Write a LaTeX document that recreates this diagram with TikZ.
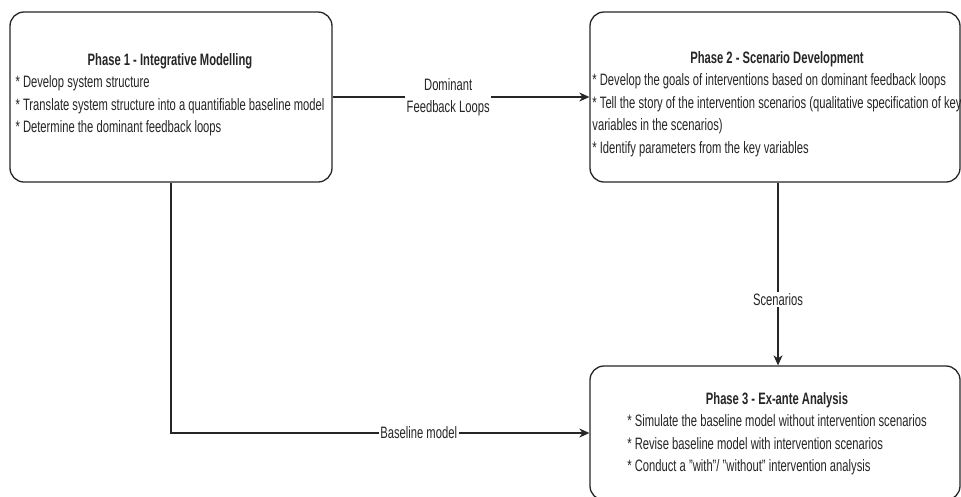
\documentclass[tikz,border=0pt]{standalone}
\usepackage{fontspec}
\setmainfont{Liberation Sans}[FakeStretch=0.68]
\usetikzlibrary{arrows.meta}
\definecolor{ink}{HTML}{262626}
\begin{document}
\begin{tikzpicture}[x=1pt,y=-1pt,
  box/.style={draw=ink, line width=1.3pt, rounded corners=14pt, fill=white, inner sep=0pt},
  txt/.style={anchor=north, inner sep=0pt, text=ink, font=\fontsize{16.5}{22.5}\selectfont},
  lbl/.style={fill=white, inner sep=1.5pt, text=ink, font=\fontsize{16.5}{22.5}\selectfont},
  conn/.style={draw=ink, line width=1.3pt, -{Stealth[length=10pt,width=9pt,inset=3pt]}}]
\useasboundingbox (0,0) rectangle (961,496);
\clip (0,0) rectangle (961,496);
\fill[white] (0,0) rectangle (961,496);

\node[box, minimum width=322pt, minimum height=170pt] (b1) at (171,97) {};
\node[box, minimum width=370pt, minimum height=170pt] (b2) at (775,97) {};
\node[box, minimum width=370pt, minimum height=134pt] (b3) at (775,433) {};

\node[txt] (t1) at (170,49.5) {\begin{tabular}{@{}l@{}}
\multicolumn{1}{@{}c@{}}{\bfseries Phase 1 - Integrative Modelling}\\
{*} Develop system structure\\
{*} Translate system structure into a quantifiable baseline model\\
{*} Determine the dominant feedback loops
\end{tabular}};

\node[txt] (t2) at (777,47.5) {\begin{tabular}{@{}l@{}}
\multicolumn{1}{@{}c@{}}{\bfseries Phase 2 - Scenario Development}\\
{*} Develop the goals of interventions based on dominant feedback loops\\
{*} Tell the story of the intervention scenarios (qualitative specification of key\\
variables in the scenarios)\\
{*} Identify parameters from the key variables
\end{tabular}};

\node[txt] (t3) at (777,388.5) {\begin{tabular}{@{}l@{}}
\multicolumn{1}{@{}c@{}}{\bfseries Phase 3 - Ex-ante Analysis}\\
{*} Simulate the baseline model without intervention scenarios\\
{*} Revise baseline model with intervention scenarios\\
{*} Conduct a "with"/ "without" intervention analysis
\end{tabular}};

\draw[conn] (b1.east) -- node[lbl, pos=0.45, align=center] (l1) {Dominant\\Feedback Loops} (b2.west);
\draw[conn] ([xshift=3pt]b2.south) -- node[lbl, pos=0.64] (l2) {Scenarios} ([xshift=3pt]b3.north);
\draw[conn] (b1.south) |- node[lbl, pos=0.796] (l3) {Baseline model} (b3.west);
\end{tikzpicture}
\end{document}
